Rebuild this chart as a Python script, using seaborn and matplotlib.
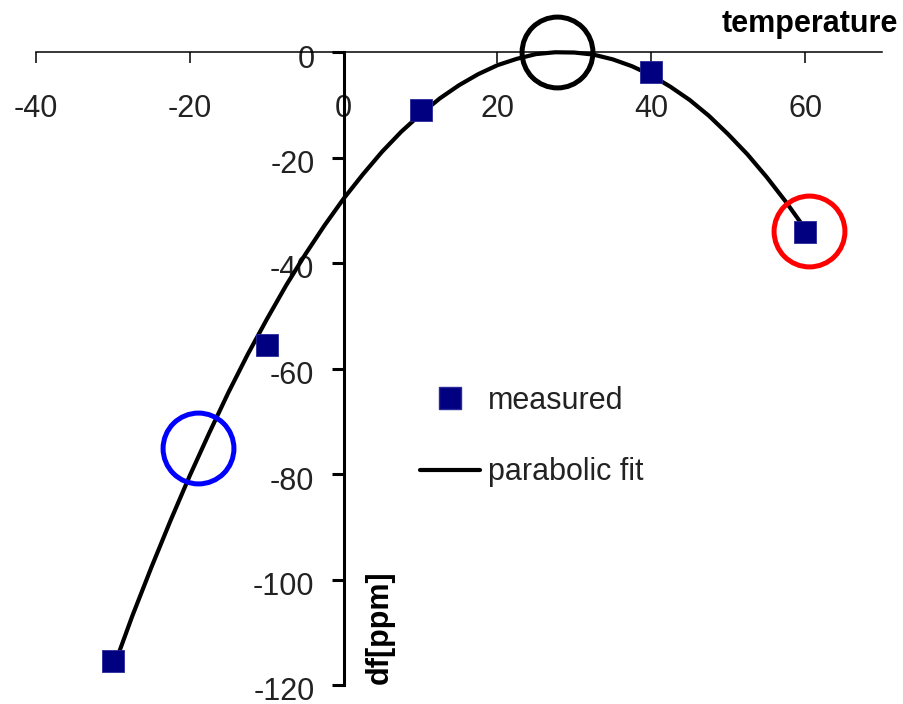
import numpy as np
import pandas as pd
import matplotlib
matplotlib.use("Agg")
import matplotlib.pyplot as plt
import matplotlib.transforms as mtransforms
from matplotlib.lines import Line2D
import seaborn as sns

# measured frequency deviation vs temperature
meas_temp = [-30, -10, 10, 40, 60]
meas_df = [-115.5, -55.5, -11.0, -3.8, -34.2]

# parabolic fit curve, sampled every 2.5 degrees
fit_temp = [-30, -27.5, -25, -22.5, -20, -17.5, -15, -12.5, -10, -7.5, -5, -2.5,
            0, 2.5, 5, 7.5, 10, 12.5, 15, 17.5, 20, 22.5, 25, 27.5, 30, 32.5,
            35, 37.5, 40, 42.5, 45, 47.5, 50, 52.5, 55, 57.5, 60]
fit_df = [-117.0, -107.0, -97.7, -88.8, -80.3, -72.3, -64.6, -57.4, -50.7, -44.3,
          -38.4, -32.9, -27.8, -23.2, -18.9, -15.1, -11.8, -8.8, -6.3, -4.2,
          -2.5, -1.3, -0.4, -0.05, -0.1, -0.5, -1.4, -2.7, -4.4, -6.6, -9.1,
          -12.1, -15.6, -19.4, -23.7, -28.4, -33.5]

# highlighted regions
mark_temp = [-19, 27.7, 60.5]
mark_df = [-75, 0, -34]
mark_colors = ["#0000FF", "#000000", "#FF0000"]

x_ticks = [-40, -20, 0, 20, 40, 60]
y_ticks = [0, -20, -40, -60, -80, -100, -120]

sns.set_style("white")
plt.rcParams["font.family"] = ["Liberation Sans", "DejaVu Sans"]

fig = plt.figure(figsize=(9.04, 7.04), dpi=100)
ax = fig.add_axes([36 / 904, 1 - 685 / 704, 846 / 904, 633 / 704])

meas = pd.DataFrame({"temperature": meas_temp, "df": meas_df})
fit = pd.DataFrame({"temperature": fit_temp, "df": fit_df})

sns.lineplot(data=fit, x="temperature", y="df", ax=ax, color="black",
             linewidth=3, sort=False, clip_on=False, zorder=3)
sns.scatterplot(data=meas, x="temperature", y="df", ax=ax, marker="s",
                s=15.5 ** 2, color="#000080", edgecolor="#2a2a9a",
                linewidth=0.6, zorder=4, clip_on=False)

for t, d, c in zip(mark_temp, mark_df, mark_colors):
    ax.plot([t], [d], marker="o", markersize=51, markerfacecolor="none",
            markeredgecolor=c, markeredgewidth=3.6, linestyle="none",
            clip_on=False, zorder=5)

ax.set_xlim(-40, 70)
ax.set_ylim(-120, 0)
ax.set_xlabel("")
ax.set_ylabel("")

for side in ["top", "right"]:
    ax.spines[side].set_visible(False)
ax.spines["bottom"].set_position(("data", 0))
ax.spines["left"].set_position(("data", 0))
ax.spines["bottom"].set_linewidth(1.1)
ax.spines["left"].set_linewidth(2.2)
ax.spines["bottom"].set_color("black")
ax.spines["left"].set_color("black")
ax.spines["bottom"].set_zorder(2)

ax.set_xticks(x_ticks)
ax.set_yticks(y_ticks)
ax.set_xticklabels([str(v) for v in x_ticks])
ax.set_yticklabels([str(v) for v in y_ticks])
ax.tick_params(axis="x", direction="out", length=8, width=1.1, pad=22,
               labelsize=22, colors="black", bottom=True)
ax.tick_params(axis="y", direction="out", length=9, width=2.2, pad=12,
               labelsize=22, colors="black", left=True)
for lbl in ax.get_yticklabels():
    lbl.set_transform(lbl.get_transform() +
                      mtransforms.ScaledTranslation(0, -4 / 100, fig.dpi_scale_trans))
for lbl in ax.get_xticklabels() + ax.get_yticklabels():
    lbl.set_color("#222222")

handles = [
    Line2D([], [], marker="s", markersize=15.5, color="#000080",
           markeredgecolor="#2a2a9a", linestyle="none"),
    Line2D([], [], color="black", linewidth=3),
]
leg = ax.legend(handles, ["measured", "parabolic fit"], loc="upper left",
                bbox_to_anchor=(420 / 904, 1 - 386 / 704),
                bbox_transform=fig.transFigure, frameon=False, fontsize=22,
                handlelength=1.95, handletextpad=0.28, labelspacing=1.35,
                borderpad=0, borderaxespad=0)
for txt in leg.get_texts():
    txt.set_color("#222222")

fig.text(722 / 904, 1 - 32 / 704, "temperature", fontsize=22,
         fontweight="bold", ha="left", va="baseline", color="black")
fig.text(380 / 904, 1 - 627 / 704, "df[ppm]", fontsize=22, fontweight="bold",
         rotation=90, ha="center", va="center", color="black")

fig.savefig("out.png", dpi=100, facecolor="white")
